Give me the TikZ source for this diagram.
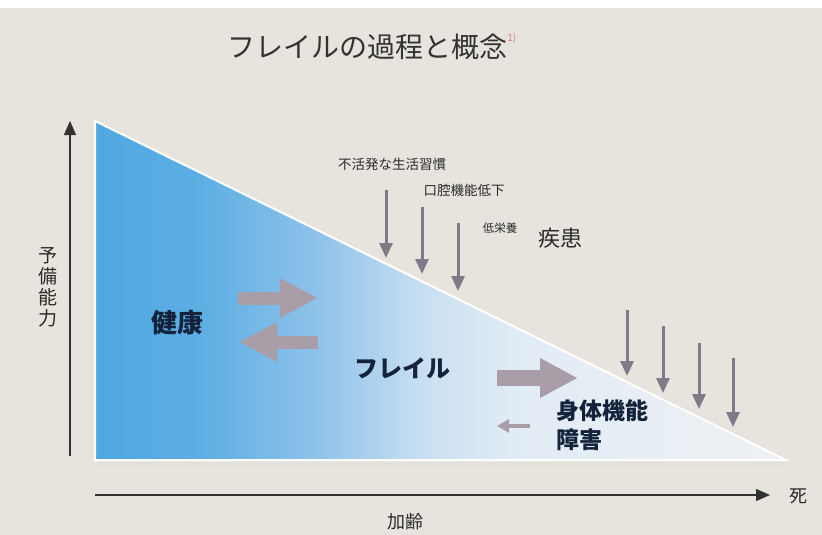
\documentclass[tikz,border=0pt]{standalone}
\usepackage{fontspec}
\setmainfont{Noto Sans CJK JP}
\usetikzlibrary{arrows.meta}
\definecolor{bg}{HTML}{E6E4DC}
\definecolor{cA}{HTML}{50A8E1}
\definecolor{cB}{HTML}{5CAEE3}
\definecolor{cC}{HTML}{90C3E9}
\definecolor{cD}{HTML}{C8DFF1}
\definecolor{cE}{HTML}{E2ECF5}
\definecolor{cF}{HTML}{EEF1F4}
\definecolor{bigarrow}{HTML}{A99DA7}
\definecolor{downarrow}{HTML}{7F7A87}
\definecolor{axis}{HTML}{333333}
\definecolor{txt}{HTML}{2A2A2A}
\definecolor{navy}{HTML}{14223C}
\pgfdeclarehorizontalshading{frail}{100bp}{color(0bp)=(cA); color(25bp)=(cA); color(32.6bp)=(cB); color(41.3bp)=(cC); color(48.6bp)=(cD); color(55.8bp)=(cE); color(75bp)=(cF); color(100bp)=(cF)}
\tikzset{
  downarr/.style={draw=downarrow, line width=3pt, -{Triangle[length=15pt,width=13pt]}},
  fatarr/.style={draw=bigarrow, line width=13pt, -{Triangle[length=38pt,width=37pt]}},
  axisarr/.style={draw=axis, line width=1.4pt, -{Triangle[length=14pt,width=12pt]}},
  lbl/.style={text=txt, inner sep=0pt},
  big/.style={font=\fontsize{24}{26}\selectfont\bfseries, text=navy, inner sep=0pt}
}
\begin{document}
\begin{tikzpicture}[x=1pt,y=-1pt]
\useasboundingbox (0,0) rectangle (822,535);
\fill[bg] (0,0) rectangle (822,535);
\fill[white] (0,0) rectangle (822,8);
% soft shadow under triangle
\fill[black!12, opacity=0.5] (97,462) -- (787,462) -- (787,467) -- (97,467) -- cycle;
% triangle
\coordinate (tl) at (95,121);
\coordinate (bl) at (95,460);
\coordinate (br) at (786,460);
\shade[shading=frail] (tl) -- (bl) -- (br) -- cycle;
\draw[white, line width=2pt, line join=miter] (tl) -- (bl) -- (br) -- cycle;
% title
\node[lbl, font=\fontsize{28}{30}\selectfont, text=axis] (title) at (367,47) {フレイルの過程と概念};
\node[lbl, font=\fontsize{10}{11}\selectfont, text={rgb,255:red,220;green,120;blue,130}, anchor=west] (ref) at (title.east) [yshift=9pt] {1)};
% axes
\coordinate (y0) at (70,456);
\coordinate (y1) at (70,121);
\draw[axisarr] (y0) -- (y1);
\coordinate (x0) at (95,495);
\coordinate (x1) at (770,495);
\draw[axisarr] (x0) -- (x1);
\node[lbl, font=\fontsize{19}{21}\selectfont, align=center] (yl) at (48,287) {予\\備\\能\\力};
\node[lbl, font=\fontsize{18}{20}\selectfont] (death) at (798,496) {死};
\node[lbl, font=\fontsize{18}{20}\selectfont] (aging) at (405,522) {加齢};
% factor labels
\node[lbl, font=\fontsize{13.5}{15}\selectfont] (f1) at (392,164) {不活発な生活習慣};
\node[lbl, font=\fontsize{13.5}{15}\selectfont] (f2) at (464,190) {口腔機能低下};
\node[lbl, font=\fontsize{11.5}{13}\selectfont] (f3) at (500,228) {低栄養};
\node[lbl, font=\fontsize{22}{24}\selectfont] (f4) at (560,238) {疾患};
% down arrows
\coordinate (a1s) at (386,190); \coordinate (a1e) at (386,258);
\coordinate (a2s) at (422,207); \coordinate (a2e) at (422,274);
\coordinate (a3s) at (458,223); \coordinate (a3e) at (458,291);
\coordinate (b1s) at (627,310); \coordinate (b1e) at (627,376);
\coordinate (b2s) at (663,326); \coordinate (b2e) at (663,393);
\coordinate (b3s) at (699,343); \coordinate (b3e) at (699,409);
\coordinate (b4s) at (733,358); \coordinate (b4e) at (733,427);
\foreach \p in {a1,a2,a3,b1,b2,b3,b4} \draw[downarr] (\p s) -- (\p e);
% state labels
\node[big, font=\fontsize{26}{28}\selectfont\bfseries] (health) at (177,323) {健康};
\node[big] (frail) at (402,368) {フレイル};
\node[big, align=left, anchor=north west, font=\fontsize{23}{29}\selectfont\bfseries] (disab) at (556,399) {身体機能\\障害};
% transition arrows
\coordinate (h1s) at (238,298); \coordinate (h1e) at (318,298);
\coordinate (h2s) at (318,342); \coordinate (h2e) at (239,342);
\draw[fatarr] (h1s) -- (h1e);
\draw[fatarr] (h2s) -- (h2e);
\coordinate (d1s) at (497,378); \coordinate (d1e) at (578,378);
\draw[fatarr, line width=16pt] (d1s) -- (d1e);
\coordinate (d2s) at (530,426); \coordinate (d2e) at (497,426);
\draw[draw=bigarrow, line width=4pt, -{Triangle[length=12pt,width=13pt]}] (d2s) -- (d2e);
\end{tikzpicture}
\end{document}
